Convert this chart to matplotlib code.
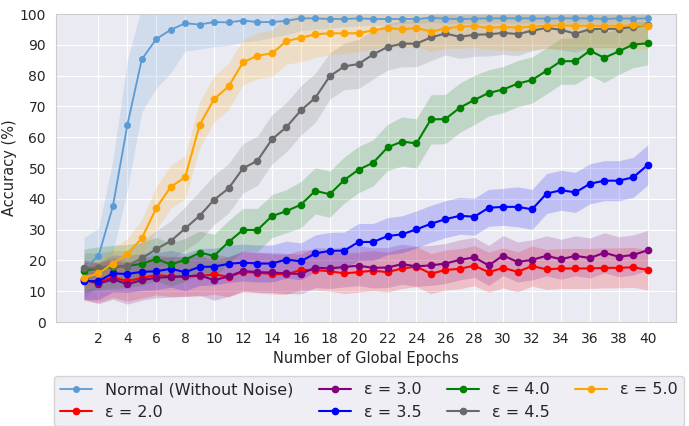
import matplotlib
matplotlib.use("Agg")
import matplotlib.pyplot as plt
import numpy as np
import seaborn as sns

sns.set_style("darkgrid")

epochs = np.arange(1, 41)

labels = ["Normal (Without Noise)", "ε = 2.0", "ε = 3.0", "ε = 3.5",
          "ε = 4.0", "ε = 4.5", "ε = 5.0"]
colors = ["#5b9bd5", "red", "purple", "blue", "green", "dimgray", "orange"]

acc_normal = [17.5, 21.4, 37.6, 64.0, 85.3, 91.9, 94.9, 97.0, 96.6, 97.4,
              97.3, 97.9, 97.4, 97.4, 97.8, 98.6, 98.6, 98.4, 98.4, 98.6,
              98.4, 98.4, 98.4, 98.4, 98.8, 98.5, 98.4, 98.5, 98.6, 98.6,
              98.6, 98.6, 98.5, 98.6, 98.6, 98.6, 98.4, 98.6, 98.5, 98.6]
std_normal = [10, 9, 15, 21, 17, 16, 14, 9, 8, 8,
              7.5, 7, 6, 5, 4.5, 4, 3.5, 3, 2.5, 2.5,
              2, 2, 1.5, 1.5, 1.5, 1.5, 1.5, 1.5, 1.5, 1.5,
              1.5, 1.5, 1.5, 1.5, 1.5, 1.5, 1.5, 1.5, 1.5, 1.5]

acc_eps20 = [13.5, 12.9, 14.5, 13.3, 14.3, 15.3, 14.8, 14.9, 14.9, 15.5,
             14.7, 16.3, 16.0, 15.6, 15.5, 16.9, 16.9, 16.5, 15.8, 16.2,
             16.7, 16.2, 17.4, 18.0, 15.7, 16.9, 17.3, 18.3, 16.2, 17.6,
             16.3, 18.2, 17.1, 17.4, 17.4, 17.4, 17.6, 17.6, 17.8, 16.9]
std_eps20 = [6.5] * 40

acc_eps30 = [13.9, 12.4, 13.9, 12.3, 13.6, 14.4, 14.6, 14.8, 15.2, 13.6,
             14.8, 16.6, 16.2, 16.1, 15.8, 15.6, 17.7, 17.4, 17.9, 18.3,
             17.6, 17.7, 18.8, 18.1, 18.4, 19.0, 20.2, 21.0, 18.4, 21.6,
             19.5, 20.2, 21.5, 20.4, 21.5, 20.8, 22.5, 21.2, 21.8, 23.3]
std_eps30 = [6.5] * 40

acc_eps35 = [13.3, 13.3, 15.8, 15.6, 16.3, 16.5, 17.3, 16.2, 17.9, 18.0,
             18.9, 19.3, 19.0, 19.0, 20.3, 19.7, 22.3, 23.1, 23.2, 26.0,
             26.0, 27.9, 28.5, 30.1, 31.9, 33.4, 34.5, 34.2, 37.1, 37.4,
             37.4, 36.6, 41.7, 42.8, 42.1, 44.9, 45.9, 45.9, 47.0, 51.0]
std_eps35 = [6] * 30 + [6.5] * 10

acc_eps40 = [16.7, 17.4, 17.9, 18.2, 18.9, 20.5, 18.7, 20.2, 22.5, 21.5,
             26.0, 29.9, 29.9, 34.4, 36.0, 38.1, 42.6, 41.5, 46.1, 49.5,
             51.7, 56.7, 58.6, 58.0, 65.8, 65.9, 69.6, 72.1, 74.4, 75.5,
             77.4, 78.6, 81.6, 84.7, 84.7, 88.1, 85.8, 87.9, 90.1, 90.5]
std_eps40 = [7, 7, 7, 7, 7, 7, 7, 7, 7, 7,
             7, 7, 7, 7, 7, 7.5, 7.5, 7.5, 7.5, 7.5,
             7.5, 7.5, 8, 8, 8, 8, 8, 8, 7.5, 7.5,
             7.5, 7.5, 7.5, 7.5, 7.5, 8, 8, 7.5, 7.5, 7]

acc_eps45 = [17.4, 17.5, 18.2, 18.2, 20.7, 23.7, 26.3, 30.4, 34.5, 39.7,
             43.4, 49.9, 52.4, 59.3, 63.3, 68.7, 72.8, 79.8, 83.0, 83.8,
             86.9, 89.3, 90.4, 90.4, 92.4, 93.7, 92.6, 93.3, 93.4, 93.9,
             93.5, 94.6, 95.5, 94.9, 93.6, 95.1, 95.2, 95.2, 95.9, 96.3]
std_eps45 = [5, 5, 5, 5, 5.5, 6, 6.5, 7, 8, 8,
             8, 8, 8, 8, 8, 8, 8, 7.5, 7.5, 8,
             8, 7.5, 7.5, 7.5, 7.5, 7, 7, 7, 7, 7,
             7, 6.5, 6.5, 6.5, 6, 6, 6, 6, 6, 6]

acc_eps50 = [14.4, 15.8, 19.0, 22.1, 27.2, 37.0, 43.9, 47.0, 64.0, 72.4,
             76.5, 84.3, 86.5, 87.2, 91.2, 92.3, 93.4, 93.8, 93.7, 93.8,
             94.7, 95.5, 95.0, 95.5, 94.3, 95.3, 95.9, 96.1, 95.5, 95.8,
             95.6, 95.9, 96.2, 96.3, 96.2, 96.2, 96.2, 96.2, 96.3, 96.2]
std_eps50 = [4, 4, 5, 5, 6, 7, 7, 7, 7.5, 7.5,
             7.5, 7.3, 7.5, 7.5, 7.5, 7.8, 7.5, 7, 6.5, 6,
             6, 6, 6, 6, 6.5, 6.5, 7, 7, 7, 7.5,
             7.5, 7.5, 7.5, 7.5, 7.5, 7.5, 7.5, 7.5, 7.5, 7.5]

means = [acc_normal, acc_eps20, acc_eps30, acc_eps35, acc_eps40, acc_eps45, acc_eps50]
stds = [std_normal, std_eps20, std_eps30, std_eps35, std_eps40, std_eps45, std_eps50]

fig, ax = plt.subplots(figsize=(6.89, 4.26), dpi=100)
fig.subplots_adjust(left=0.081, right=0.981, top=0.967, bottom=0.244)

for lab, col, m, s in zip(labels, colors, means, stds):
    m = np.array(m)
    s = np.array(s)
    lw = 1.3 if col == "#5b9bd5" else 1.5
    ms = 4 if col == "#5b9bd5" else 4.5
    ax.plot(epochs, m, marker="o", markersize=ms, lw=lw, color=col, label=lab)
    ax.fill_between(epochs, m - s, m + s, color=col, alpha=0.18, lw=0)

ax.set_ylim(0, 100)
ax.set_xticks(np.arange(2, 41, 2))
ax.set_yticks(np.arange(0, 101, 10))
ax.tick_params(labelsize=10)
ax.set_xlabel("Number of Global Epochs", fontsize=10.5)
ax.set_ylabel("Accuracy (%)", fontsize=10.5, labelpad=2)
for sp in ax.spines.values():
    sp.set_visible(True)
    sp.set_color("#cccccc")

ax.legend(loc="upper center", bbox_to_anchor=(0.505, -0.175), ncol=4,
          fontsize=11.5, columnspacing=1.6, labelspacing=0.45,
          borderaxespad=0, frameon=True)

fig.savefig("out.png", dpi=100)
